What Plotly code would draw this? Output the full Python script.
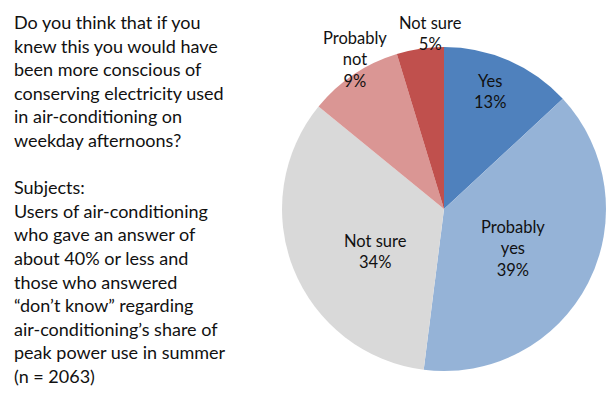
import math
import plotly.graph_objects as go

categories = ["Yes", "Probably<br>yes", "Not sure", "Probably<br>not", "Not sure"]
values = [13.1, 38.9, 33.9, 9.4, 4.7]
colors = ["#4F81BD", "#95B3D7", "#D9D9D9", "#DA9694", "#C0504D"]

# label placement (style): radius as a fraction of pie radius, angular nudge in degrees
label_radius = [0.78, 0.49, 0.50, 1.075, 1.084]
label_nudge = [-2.2, 2.6, -9.8, 3.1, 3.9]

question_lines = [
    "Do you think that if you",
    "knew this you would have",
    "been more conscious of",
    "conserving electricity used",
    "in air-conditioning on",
    "weekday afternoons?",
    "",
    "Subjects:",
    "Users of air-conditioning",
    "who gave an answer of",
    "about 40% or less and",
    "those who answered",
    "\u201cdon\u2019t know\u201d regarding",
    "air-conditioning\u2019s share of",
    "peak power use in summer",
    "(n = 2063)",
]

FONT = "Lato"
W, H = 612, 394
TXT = "#111111"

dom_x = [0.4608, 0.9902]
dom_y = [0.0584, 0.8807]

total = sum(values)
pct = [v / total for v in values]

fig = go.Figure(
    go.Pie(
        labels=[f"s{i}" for i in range(len(values))],
        values=values,
        textinfo="none",
        sort=False,
        direction="clockwise",
        rotation=0,
        marker=dict(colors=colors, line=dict(width=0)),
        domain=dict(x=dom_x, y=dom_y),
        showlegend=False,
        hoverinfo="skip",
    )
)

cx_px = (dom_x[0] + dom_x[1]) / 2 * W
cy_px = (1 - (dom_y[0] + dom_y[1]) / 2) * H
r_px = min((dom_x[1] - dom_x[0]) * W, (dom_y[1] - dom_y[0]) * H) / 2
cum = 0.0
for cat, p, rf, nudge in zip(categories, pct, label_radius, label_nudge):
    mid = (cum + p / 2) * 360
    cum += p
    ang = math.radians(mid + nudge)
    lx = cx_px + rf * r_px * math.sin(ang)
    ly = cy_px - rf * r_px * math.cos(ang)
    fig.add_annotation(
        text=f"{cat}<br>{round(p * 100)}%",
        xref="paper", yref="paper",
        x=lx / W, y=1 - ly / H,
        xanchor="center", yanchor="middle",
        showarrow=False, align="center",
        font=dict(family=FONT, size=16.5, color=TXT),
    )

pitch = 23.6
for i, line in enumerate(question_lines):
    if not line:
        continue
    fig.add_annotation(
        text=line,
        xref="paper", yref="paper",
        x=12 / W, y=1 - (22 + i * pitch) / H,
        xanchor="left", yanchor="middle",
        align="left", showarrow=False,
        font=dict(family=FONT, size=18, color=TXT),
    )

fig.update_layout(
    width=W, height=H,
    margin=dict(l=0, r=0, t=0, b=0),
    paper_bgcolor="white",
    plot_bgcolor="white",
)

fig.write_html("out.html")
